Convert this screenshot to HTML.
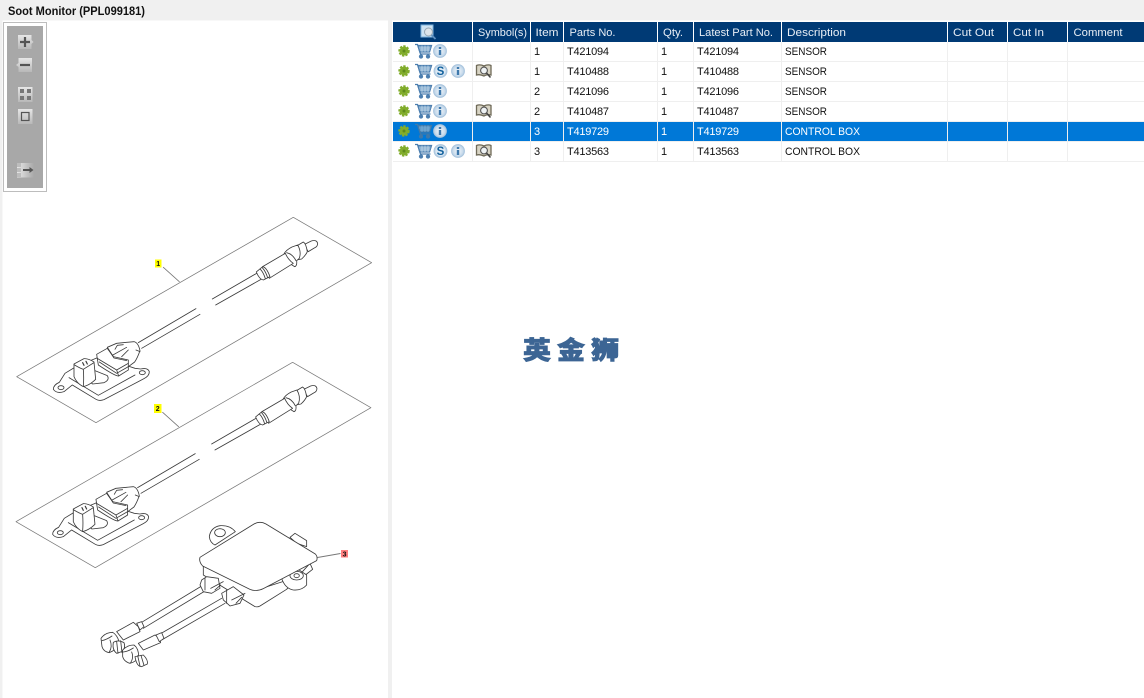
<!DOCTYPE html>
<html><head><meta charset="utf-8"><style>
html,body{margin:0;padding:0;width:1144px;height:698px;overflow:hidden;background:#fff}
svg{display:block}
text{font-family:"Liberation Sans","Noto Sans CJK SC",sans-serif;font-size:11px;fill:#111}
.h text{fill:#e8eef5}
.s text{fill:#fff}
.l path,.l circle,.l ellipse,.l rect{fill:#fff;stroke:#3a3a3a;stroke-width:2.500;stroke-linejoin:round;stroke-linecap:round}
.l path.n{fill:none}
.soft{filter:url(#sf)}
</style></head><body>
<svg width="1144" height="698" viewBox="0 0 1144 698" xmlns="http://www.w3.org/2000/svg">
<defs>
<filter id="sf" x="-5%" y="-5%" width="110%" height="110%"><feGaussianBlur stdDeviation="1"/></filter>
<radialGradient id="ib" cx=".5" cy=".5" r=".55"><stop offset="0" stop-color="#f2f6fa"/><stop offset=".65" stop-color="#c8dbec"/><stop offset="1" stop-color="#8fb2d2"/></radialGradient>
<linearGradient id="btn" x1="0" y1="0" x2="0" y2="1"><stop offset="0" stop-color="#e6e6e6"/><stop offset="1" stop-color="#b8b8b8"/></linearGradient>
<linearGradient id="fade" x1="0" y1="0" x2="1" y2="0"><stop offset="0" stop-color="#e8e8e8"/><stop offset="1" stop-color="#a8a8a8"/></linearGradient>
<g id="gear"><circle r="4.500" fill="#82ad2c" stroke="#82ad2c" stroke-width="2.400" stroke-dasharray="2.200 1.200"/><circle r="1.500" fill="#5f8a1c"/></g>
<g id="cart" fill="none" stroke="#4d7fb0" stroke-width="1.300"><path d="M-8-6.500h2.500l3 9.500h10"/><path d="M-5-5.500H8.500L6.500 1H-3.200Z" fill="#7fa8cc"/><path d="M-4-3H7.500M-3.200-1H7M-1-5.500V1M2-5.500V1M5-5.500V1" stroke="#d4e3f0" stroke-width=".6"/><circle cx="-2" cy="5.500" r="1.500" fill="#4d7fb0"/><circle cx="5" cy="5.500" r="1.500" fill="#4d7fb0"/></g>
<g id="info"><circle r="6.900" fill="url(#ib)"/><rect x="-1.200" y="-1" width="2.400" height="5" fill="#3d78ac"/><rect x="-1.200" y="-4" width="2.400" height="2" fill="#3d78ac"/></g>
<g id="book"><path d="M-7.500-5.500Q-4-7 0-5Q4-7 7-5.500V4Q3 3 0 5Q-4 3-7.500 4Z" fill="#d8d4c4" stroke="#6f6a58" stroke-width="1.300"/><circle cx="0" cy="-.5" r="3.400" fill="#eef2f4" stroke="#555" stroke-width="1.100"/><path d="M2.500 2L6.500 6.500" stroke="#444" stroke-width="1.500"/></g>
<g id="sensor" class="l">
<path d="M50 500L880 22L1115 158L288 638Z" style="fill:none;stroke:#777;stroke-width:2.200"/>
<path class="n" d="M490 172L538 215" style="stroke:#777"/>
<path class="n" d="M415 398L588 296M425 415L600 313M637 267L770 190M647 285L785 207"/>
<path d="M912 104L934 93Q950 88 953 100Q953 110 943 114L925 125Z"/>
<path d="M893 106L910 96Q918 100 922 125Q918 135 905 147L890 150Z"/>
<path d="M852 132Q858 120 876 111L893 105Q905 125 898 145L890 152Q892 168 884 170L868 160Q852 148 852 132Z"/>
<path class="n" d="M860 128Q878 132 888 152"/>
<path d="M788 170L856 130Q865 150 880 160L808 205Z"/>
<path d="M769 186L788 170Q800 172 810 200L790 210Q778 208 769 186Z"/>
<path class="n" d="M780 177Q790 186 796 206M787 173Q797 184 803 203"/>
<path d="M195 490L228 470L300 440L405 475L422 477Q444 472 448 485Q448 498 432 506L312 569Q298 574 288 568L217 525L192 545Q170 552 160 538Q160 525 178 517Z"/>
<ellipse cx="183" cy="533" rx="9" ry="6"/><ellipse cx="427" cy="488" rx="9" ry="6"/>
<path class="n" d="M207 503L295 556L405 495"/>
<path d="M280 480L322 497Q330 510 312 518L278 522L262 510Z"/>
<path d="M222 462L252 446Q265 445 282 456L287 508Q270 525 250 530Q230 520 222 500Z"/>
<path class="n" d="M222 464Q240 475 250 478Q252 505 250 528M250 478L282 458"/>
<path class="n" d="M248 458L252 466M258 454L262 462" style="stroke-width:3.500"/>
<path d="M322 412L350 400L402 395Q415 398 420 422Q412 445 404 456L385 470L340 440Z"/>
<path class="n" d="M345 418L352 406L370 404M330 440L380 412M365 440L385 420M408 420L420 425"/>
<path d="M290 433L322 415L340 440L385 450L385 480L356 498Q348 500 295 465Z"/>
<path class="n" d="M290 444L350 480L385 460M350 480L356 498M298 456L350 490L385 470M325 418L342 444L380 452"/>
</g>
</defs>

<rect width="1144" height="698" fill="#fff"/>
<rect width="1144" height="20.500" fill="#f0f0f0"/>
<rect x="0" y="0" width="2.500" height="698" fill="#f0f0f0"/>
<rect x="388" y="0" width="4" height="698" fill="#f0f0f0"/>
<text x="8" y="15" textLength="137" lengthAdjust="spacingAndGlyphs" style="font-weight:bold;font-size:11.500px">Soot Monitor (PPL099181)</text>

<!-- toolbar -->
<rect x="3.500" y="22.500" width="43" height="169" fill="#fff" stroke="#bdbdbd"/>
<rect x="7" y="26" width="36" height="162" fill="#a8a8a8"/>
<g>
<path d="M18 35h13.500v5l2 2-2 2v5H18z" fill="url(#btn)"/>
<path d="M20 42h10M25 37v10" stroke="#555" stroke-width="2.200"/>
<path d="M32 58H18.500v5l-2.500 2 2.500 2v5H32z" fill="url(#btn)"/>
<path d="M20 65h10" stroke="#555" stroke-width="2.200"/>
<rect x="18" y="87" width="14.500" height="15" fill="url(#btn)"/>
<rect x="20" y="89" width="4" height="4" fill="#777"/><rect x="27" y="89" width="4" height="4" fill="#777"/><rect x="20" y="96" width="4" height="4" fill="#777"/><rect x="27" y="96" width="4" height="4" fill="#777"/>
<rect x="18" y="109" width="14.500" height="15" fill="url(#btn)"/>
<rect x="21.500" y="112.500" width="7.500" height="8" fill="none" stroke="#555" stroke-width="1.200"/>
<rect x="17" y="163" width="17" height="14.500" fill="url(#fade)"/>
<rect x="17" y="163" width="4" height="4" fill="#bdbdbd"/><rect x="17" y="168" width="4" height="4" fill="#bdbdbd"/><rect x="17" y="173" width="4" height="4" fill="#bdbdbd"/>
<path d="M23 170h8" stroke="#555" stroke-width="2"/><path d="M29.500 167l4 3-4 3z" fill="#555"/>
</g>

<!-- drawing -->
<g class="soft" style="filter:none">
<use href="#sensor" transform="translate(0 210) scale(.3333)"/>
<use href="#sensor" transform="translate(-.7 355) scale(.3333)"/>
<g transform="translate(90 510) scale(.3333)" class="l">
<path d="M358 80Q362 52 390 47Q420 45 436 65L375 105Q360 98 358 80Z"/>
<ellipse cx="390" cy="68" rx="16" ry="12"/>
<path d="M600 82L615 70L650 92V110L620 100Z"/>
<path d="M340 165V195L495 290Q503 292 510 288L590 238L660 160L668 178L650 192L500 240Z"/>
<path d="M575 205L620 175L650 195V225Q635 242 610 240Q585 235 575 205Z"/>
<ellipse cx="620" cy="197" rx="20" ry="13"/><ellipse cx="620" cy="197" rx="8" ry="6"/>
<path d="M330 142L492 42Q510 32 528 42L676 132Q684 140 680 152L520 236Q500 246 480 238L338 168Q326 155 330 142Z"/>
<path class="n" d="M150 340L340 225M160 355L350 240M205 375L395 265M215 390L405 280"/>
<path d="M335 210L350 200L385 205L390 235L365 250L340 245L330 225Z"/>
<path class="n" d="M345 205V240M362 235L400 215M375 240L392 225"/>
<path d="M395 250L430 230L462 255L450 280L420 288L400 270Z"/>
<path class="n" d="M410 240V280M425 270L465 250M438 280L455 262"/>
<path d="M80 365L130 337L145 350L150 365L100 390Z"/>
<path d="M140 340L155 335L162 350L150 360Z"/>
<path d="M33 385Q45 368 68 367Q82 375 88 398Q80 420 58 428Q40 425 36 410Z"/>
<path class="n" d="M36 392Q52 388 66 378M60 390Q68 410 58 426"/>
<path d="M70 397Q84 388 102 398Q108 415 95 425L80 430Q66 420 70 397Z"/>
<path class="n" d="M80 395L84 430M92 392L96 428"/>
<path d="M145 400L195 375L210 385L212 398L160 420Z"/>
<path d="M198 375L215 368L222 385L208 395Z"/>
<path d="M98 420Q112 405 132 405Q146 415 146 440Q140 455 120 460Q102 455 98 440Z"/>
<path class="n" d="M100 426Q115 424 130 414M125 426Q132 442 122 458"/>
<path d="M135 440L160 435Q175 450 172 462L155 470Q140 470 135 440Z"/>
<path class="n" d="M143 437L150 468M153 436L162 466"/>
</g>
</g>

<g>
<rect x="155" y="259.500" width="6.500" height="8" fill="#ffff00"/>
<text x="156.300" y="266" style="font-size:7px;font-weight:bold">1</text>
<rect x="154" y="404" width="7.500" height="9" fill="#ffff00"/>
<text x="155.800" y="411" style="font-size:7px;font-weight:bold">2</text>
<rect x="341" y="550" width="7" height="7.500" fill="#ff7f7f"/>
<text x="342.600" y="556.500" style="font-size:7px;font-weight:bold">3</text>
<path d="M317.500 557.500L340.500 553.500" stroke="#777" stroke-width=".9" fill="none"/>
</g>

<!-- table header -->
<rect x="393" y="22" width="751" height="20" fill="#003a75"/>
<path stroke="#fff" stroke-width="1" d="M472.500 22V42M530.500 22V42M563.500 22V42M657.500 22V42M693.500 22V42M781.500 22V42M947.500 22V42M1007.500 22V42M1067.500 22V42"/>
<g>
<rect x="421" y="25" width="12" height="12" fill="#cfe3f3" stroke="#7fb4de"/>
<circle cx="428.500" cy="32" r="4" fill="#dfe5ea" stroke="#9aa8b4"/>
<path d="M431.500 35l4 4" stroke="#5f90c0" stroke-width="1.800"/>
</g>
<g class="h">
<text x="478" y="36" textLength="49" lengthAdjust="spacingAndGlyphs">Symbol(s)</text><text x="535.500" y="36" textLength="23" lengthAdjust="spacingAndGlyphs">Item</text><text x="569.500" y="36" textLength="46" lengthAdjust="spacingAndGlyphs">Parts No.</text><text x="663" y="36" textLength="20" lengthAdjust="spacingAndGlyphs">Qty.</text><text x="699" y="36" textLength="74" lengthAdjust="spacingAndGlyphs">Latest Part No.</text><text x="787" y="36" textLength="59" lengthAdjust="spacingAndGlyphs">Description</text><text x="953" y="36" textLength="41" lengthAdjust="spacingAndGlyphs">Cut Out</text><text x="1013" y="36" textLength="31" lengthAdjust="spacingAndGlyphs">Cut In</text><text x="1073.500" y="36" textLength="49" lengthAdjust="spacingAndGlyphs">Comment</text>
</g>

<!-- selected row -->
<rect x="393" y="122" width="751" height="19" fill="#0078d7"/>
<!-- grid -->
<g stroke="#efefef" stroke-width="1" fill="none">
<path d="M393 61.500H1144M393 81.500H1144M393 101.500H1144M393 121.500H1144M393 141.500H1144M393 161.500H1144"/>
<path d="M472.500 42V162M530.500 42V162M563.500 42V162M657.500 42V162M693.500 42V162M781.500 42V162M947.500 42V162M1007.500 42V162M1067.500 42V162"/>
</g>

<!-- rows -->
<g>
<text x="534" y="55">1</text><text x="567" y="55" textLength="42">T421094</text><text x="661" y="55">1</text><text x="697" y="55" textLength="42">T421094</text><text x="785" y="55" textLength="42" lengthAdjust="spacingAndGlyphs">SENSOR</text>
<text x="534" y="75">1</text><text x="567" y="75" textLength="42">T410488</text><text x="661" y="75">1</text><text x="697" y="75" textLength="42">T410488</text><text x="785" y="75" textLength="42" lengthAdjust="spacingAndGlyphs">SENSOR</text>
<text x="534" y="95">2</text><text x="567" y="95" textLength="42">T421096</text><text x="661" y="95">1</text><text x="697" y="95" textLength="42">T421096</text><text x="785" y="95" textLength="42" lengthAdjust="spacingAndGlyphs">SENSOR</text>
<text x="534" y="115">2</text><text x="567" y="115" textLength="42">T410487</text><text x="661" y="115">1</text><text x="697" y="115" textLength="42">T410487</text><text x="785" y="115" textLength="42" lengthAdjust="spacingAndGlyphs">SENSOR</text>
<g class="s"><text x="534" y="135">3</text><text x="567" y="135" textLength="42">T419729</text><text x="661" y="135">1</text><text x="697" y="135" textLength="42">T419729</text><text x="785" y="135" textLength="75" lengthAdjust="spacingAndGlyphs">CONTROL BOX</text></g>
<text x="534" y="155">3</text><text x="567" y="155" textLength="42">T413563</text><text x="661" y="155">1</text><text x="697" y="155" textLength="42">T413563</text><text x="785" y="155" textLength="75" lengthAdjust="spacingAndGlyphs">CONTROL BOX</text>
</g>

<!-- icons -->
<use href="#gear" x="404" y="51"/><use href="#cart" x="423" y="51"/><use href="#info" x="440" y="51"/>
<use href="#gear" x="404" y="71"/><use href="#cart" x="423" y="71"/><use href="#info" x="440.500" y="71"/><use href="#info" x="458" y="71"/>
<circle cx="440.500" cy="71" r="5" fill="#dce9f4"/>
<text x="440.500" y="75" text-anchor="middle" style="font-size:11.500px;font-weight:bold;fill:#0f5f9c">S</text>
<use href="#gear" x="404" y="91"/><use href="#cart" x="423" y="91"/><use href="#info" x="440" y="91"/>
<use href="#gear" x="404" y="111"/><use href="#cart" x="423" y="111"/><use href="#info" x="440" y="111"/>
<use href="#gear" x="404" y="131"/><use href="#cart" x="423" y="131" opacity=".6" style="filter:grayscale(.7)"/><use href="#info" x="440" y="131"/>
<use href="#gear" x="404" y="151"/><use href="#cart" x="423" y="151"/><use href="#info" x="440.500" y="151"/><use href="#info" x="458" y="151"/>
<circle cx="440.500" cy="151" r="5" fill="#dce9f4"/>
<text x="440.500" y="155" text-anchor="middle" style="font-size:11.500px;font-weight:bold;fill:#0f5f9c">S</text>
<use href="#book" x="484" y="71"/><use href="#book" x="484" y="111"/><use href="#book" x="484" y="151"/>

<text transform="translate(523 359) scale(1.12 1)" style="font-family:'Noto Sans CJK SC','WenQuanYi Zen Hei',sans-serif;font-size:25px;font-weight:900;fill:#3c6594;stroke:#3c6594;stroke-width:.7px;letter-spacing:5.400px">英金狮</text>
</svg>
</body></html>
